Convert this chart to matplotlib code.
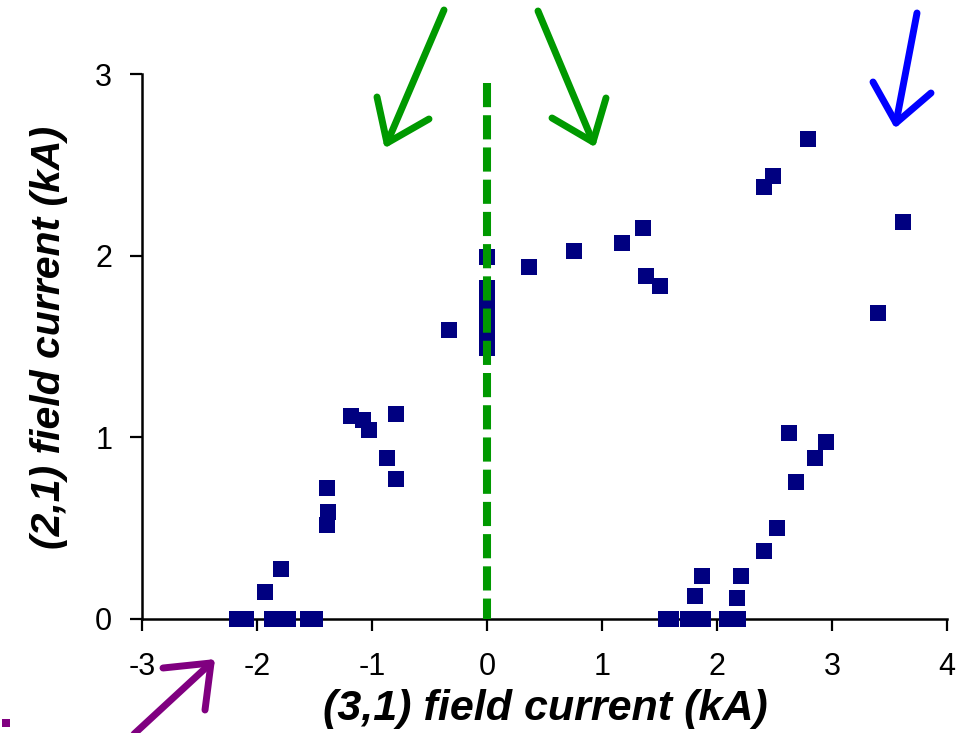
import matplotlib
matplotlib.use("Agg")
import matplotlib.pyplot as plt
from matplotlib.lines import Line2D

plt.rcParams['font.family'] = ['Liberation Sans', 'DejaVu Sans']
plt.rcParams['axes.unicode_minus'] = False

# (3,1) and (2,1) field currents in kA
x31 = [-2.17, -2.10, -1.87, -1.80, -1.73, -1.56, -1.50,
       -1.93, -1.79,
       -1.39, -1.38, -1.39,
       -1.185, -1.075, -1.03, -0.795, -0.87, -0.795,
       -0.33,
       0.0, 0.0, 0.0, 0.0, 0.0, 0.0, 0.0, 0.0,
       0.365, 0.76, 1.17, 1.36, 1.38, 1.50,
       2.79, 2.49, 2.41, 3.615, 3.40,
       2.63, 2.945, 2.85, 2.69, 2.52, 2.41, 1.87, 2.21, 1.81, 2.17,
       1.56, 1.60, 1.75, 1.82, 1.88, 2.09, 2.18]
y21 = [0, 0, 0, 0, 0, 0, 0,
       0.148, 0.275,
       0.52, 0.59, 0.72,
       1.117, 1.093, 1.038, 1.126, 0.888, 0.773,
       1.593,
       1.99, 1.82, 1.77, 1.71, 1.65, 1.60, 1.55, 1.49,
       1.938, 2.027, 2.07, 2.152, 1.89, 1.833,
       2.641, 2.438, 2.379, 2.185, 1.685,
       1.026, 0.976, 0.888, 0.753, 0.50, 0.374, 0.235, 0.235, 0.125, 0.114,
       0, 0, 0, 0, 0, 0, 0]

xticks = [-3, -2, -1, 0, 1, 2, 3, 4]
yticks = [0, 1, 2, 3]

W, H = 965, 733
fig = plt.figure(figsize=(W / 100, H / 100), dpi=100)
ax = fig.add_axes([142 / W, 1 - 619 / H, 805 / W, 545 / H])

ax.plot(x31, y21, 's', color='#000080', markersize=11.8, markeredgewidth=0,
        clip_on=False, zorder=3)
ax.plot([0, 0], [2.95, 0], color='#009900', linewidth=5.8,
        dashes=(3, 1), zorder=4, solid_capstyle='butt')

ax.set_xlim(-3, 4)
ax.set_ylim(0, 3)
ax.set_xticks(xticks)
ax.set_yticks(yticks)
ax.spines['top'].set_visible(False)
ax.spines['right'].set_visible(False)
for s in ['left', 'bottom']:
    ax.spines[s].set_linewidth(1.8)
ax.tick_params(axis='x', direction='out', length=8.5, width=1.6, labelsize=22, pad=15)
ax.tick_params(axis='y', direction='out', length=8.5, width=1.6, labelsize=22, pad=13)

ax.set_xlabel('(3,1) field current (kA)', fontsize=31, fontweight='bold', style='italic')
ax.set_ylabel('(2,1) field current (kA)', fontsize=29.5, fontweight='bold', style='italic')
ax.xaxis.set_label_coords(0.5006, -0.128)
ax.yaxis.set_label_coords(-0.092, 0.516)

# hand-drawn style arrows, figure pixel positions (tail, tip, wing1, wing2)
arrows = [
    ('#009900', (444, 10), (387, 143), (377, 97), (429, 119)),
    ('#009900', (538, 11), (593, 142), (606, 98), (552, 118)),
    ('#0000ff', (917, 13), (896, 123), (873, 82), (931, 93)),
    ('#800080', (120, 747), (211, 663), (163, 668), (205, 710)),
]
for col, tail, tip, w1, w2 in arrows:
    for pts in ([tail, tip], [w1, tip, w2]):
        xs = [p[0] / W for p in pts]
        ys = [1 - p[1] / H for p in pts]
        fig.add_artist(Line2D(xs, ys, transform=fig.transFigure, color=col,
                              linewidth=5, solid_capstyle='round',
                              solid_joinstyle='round'))

fig.add_artist(Line2D([6 / W], [1 - 723 / H], transform=fig.transFigure,
                      marker='s', markersize=6, color='#800080',
                      markeredgewidth=0, linestyle='none'))

fig.savefig('out.png', dpi=100)
